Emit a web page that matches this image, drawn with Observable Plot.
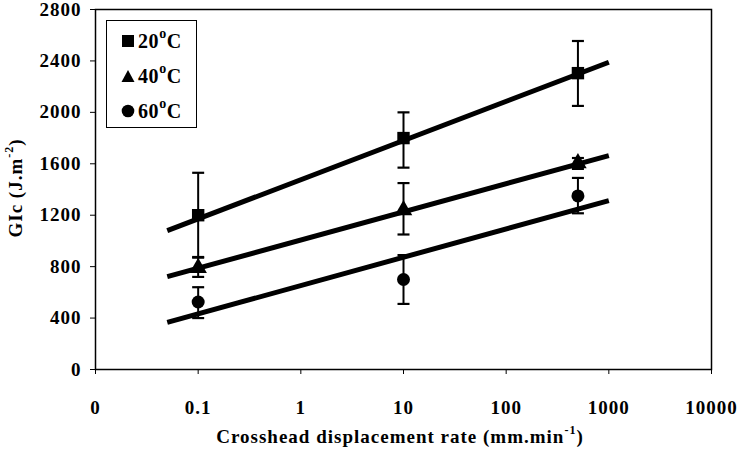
<!DOCTYPE html>
<html>
<head>
<meta charset="utf-8">
<script src="https://cdn.jsdelivr.net/npm/d3@7"></script>
<script src="https://cdn.jsdelivr.net/npm/@observablehq/plot@0.6"></script>
<style>
  body { margin: 0; background: #fff; }
  #wrap { position: relative; width: 744px; height: 449px; font-family: "Liberation Serif", serif; font-weight: bold; }
  #legend { position: absolute; left: 106px; top: 20px; width: 89px; height: 106px; border: 1.5px solid #000; background: #fff; }
  .row { position: absolute; left: 14px; height: 22px; display: flex; align-items: center; font-size: 20px; letter-spacing: 0.6px; color: #000; }
  .row svg { margin-right: 3px; }
  .row sup { font-size: 14px; position: relative; top: -3px; vertical-align: top; line-height: 1; }
  svg text { letter-spacing: 1px; }
</style>
</head>
<body>
<div id="wrap"></div>
<script>
// ---- data ----
const seriesNames = ["20", "40", "60"];
const rates = [0.1, 10, 500];
const g20 = [1200, 1800, 2305];
const g20lo = [870, 1570, 2050];
const g20hi = [1530, 2000, 2555];
const g40 = [790, 1240, 1605];
const g40lo = [720, 1050, 1560];
const g40hi = [875, 1450, 1645];
const g60 = [525, 700, 1350];
const g60lo = [400, 510, 1215];
const g60hi = [640, 890, 1490];
const fitX = [0.05, 1000];
const fit20 = [1080, 2390];
const fit40 = [722, 1664];
const fit60 = [366, 1314];
const xTickValues = [0.01, 0.1, 1, 10, 100, 1000, 10000];
const xTickLabels = ["0", "0.1", "1", "10", "100", "1000", "10000"];
const yTickValues = [0, 400, 800, 1200, 1600, 2000, 2400, 2800];
const symbols = ["square", "triangle", "circle"];

// ---- tables ----
const means = [g20, g40, g60];
const los = [g20lo, g40lo, g60lo];
const his = [g20hi, g40hi, g60hi];
const fits = [fit20, fit40, fit60];
const pts = [];
means.forEach((arr, s) => arr.forEach((v, i) => pts.push({s, x: rates[i], y: v, lo: los[s][i], hi: his[s][i]})));
const fitRows = [];
fits.forEach((arr, s) => arr.forEach((v, i) => fitRows.push({s, x: fitX[i], y: v})));

const capSymbol = {
  draw(ctx, size) {
    const w = Math.sqrt(size / Math.PI);
    ctx.moveTo(-w, 0);
    ctx.lineTo(w, 0);
  }
};

const plot = Plot.plot({
  width: 744,
  height: 449,
  marginLeft: 95,
  marginRight: 33,
  marginTop: 9,
  marginBottom: 80,
  style: { fontFamily: "Liberation Serif, serif", fontWeight: "bold", fontSize: "19px", color: "#000", background: "#fff" },
  x: { type: "log", domain: [0.01, 10000], ticks: xTickValues, tickFormat: d => xTickLabels[xTickValues.indexOf(d)], tickSize: 5, tickPadding: 26, label: null },
  y: { domain: [0, 2800], ticks: yTickValues, tickFormat: d3.format("d"), tickSize: 5, tickPadding: 9, label: null },
  marks: [
    Plot.frame({ stroke: "#000", strokeWidth: 1.5 }),
    Plot.line(fitRows, { x: "x", y: "y", z: "s", stroke: "#000", strokeWidth: 5, strokeLinecap: "butt" }),
    Plot.ruleX(pts, { x: "x", y1: "lo", y2: "hi", stroke: "#000", strokeWidth: 2 }),
    Plot.dot(pts, { x: "x", y: "lo", symbol: () => capSymbol, r: 6, stroke: "#000", strokeWidth: 2.2, fill: "none" }),
    Plot.dot(pts, { x: "x", y: "hi", symbol: () => capSymbol, r: 6, stroke: "#000", strokeWidth: 2.2, fill: "none" }),
    Plot.dot(pts.filter(d => d.s === 0), { x: "x", y: "y", symbol: "square", r: 7, fill: "#000" }),
    Plot.dot(pts.filter(d => d.s === 1), { x: "x", y: "y", symbol: "triangle", r: 6.5, fill: "#000" }),
    Plot.dot(pts.filter(d => d.s === 2), { x: "x", y: "y", symbol: "circle", r: 6.5, fill: "#000" })
  ]
});

const svg = d3.select(plot);
// axis titles with superscripts
const yl = svg.append("text")
  .attr("transform", "translate(22,188) rotate(-90)")
  .attr("text-anchor", "middle")
  .attr("font-size", 19).attr("font-weight", "bold").attr("fill", "#000");
yl.append("tspan").text("GIc (J.m");
yl.append("tspan").attr("font-size", 12).attr("dy", -9).text("-2");
yl.append("tspan").attr("dy", 9).text(")");

const xl = svg.append("text")
  .attr("x", 400).attr("y", 443)
  .attr("text-anchor", "middle")
  .attr("font-size", 19).attr("font-weight", "bold").attr("fill", "#000");
xl.append("tspan").text("Crosshead displacement rate (mm.min");
xl.append("tspan").attr("font-size", 12).attr("dy", -9).text("-1");
xl.append("tspan").attr("dy", 9).text(")");

const wrap = document.getElementById("wrap");
wrap.appendChild(plot);

// legend
const legend = document.createElement("div");
legend.id = "legend";
const shapes = {
  square: '<rect x="1" y="1" width="12" height="12" fill="#000"/>',
  triangle: '<path d="M7,1 L13.5,13 L0.5,13 Z" fill="#000"/>',
  circle: '<circle cx="7" cy="7" r="6.3" fill="#000"/>'
};
seriesNames.forEach((n, i) => {
  const row = document.createElement("div");
  row.className = "row";
  row.style.top = (9 + i * 35) + "px";
  row.innerHTML = `<svg width="14" height="14">${shapes[symbols[i]]}</svg><span>${n}<sup>o</sup>C</span>`;
  legend.appendChild(row);
});
wrap.appendChild(legend);
</script>
</body>
</html>
